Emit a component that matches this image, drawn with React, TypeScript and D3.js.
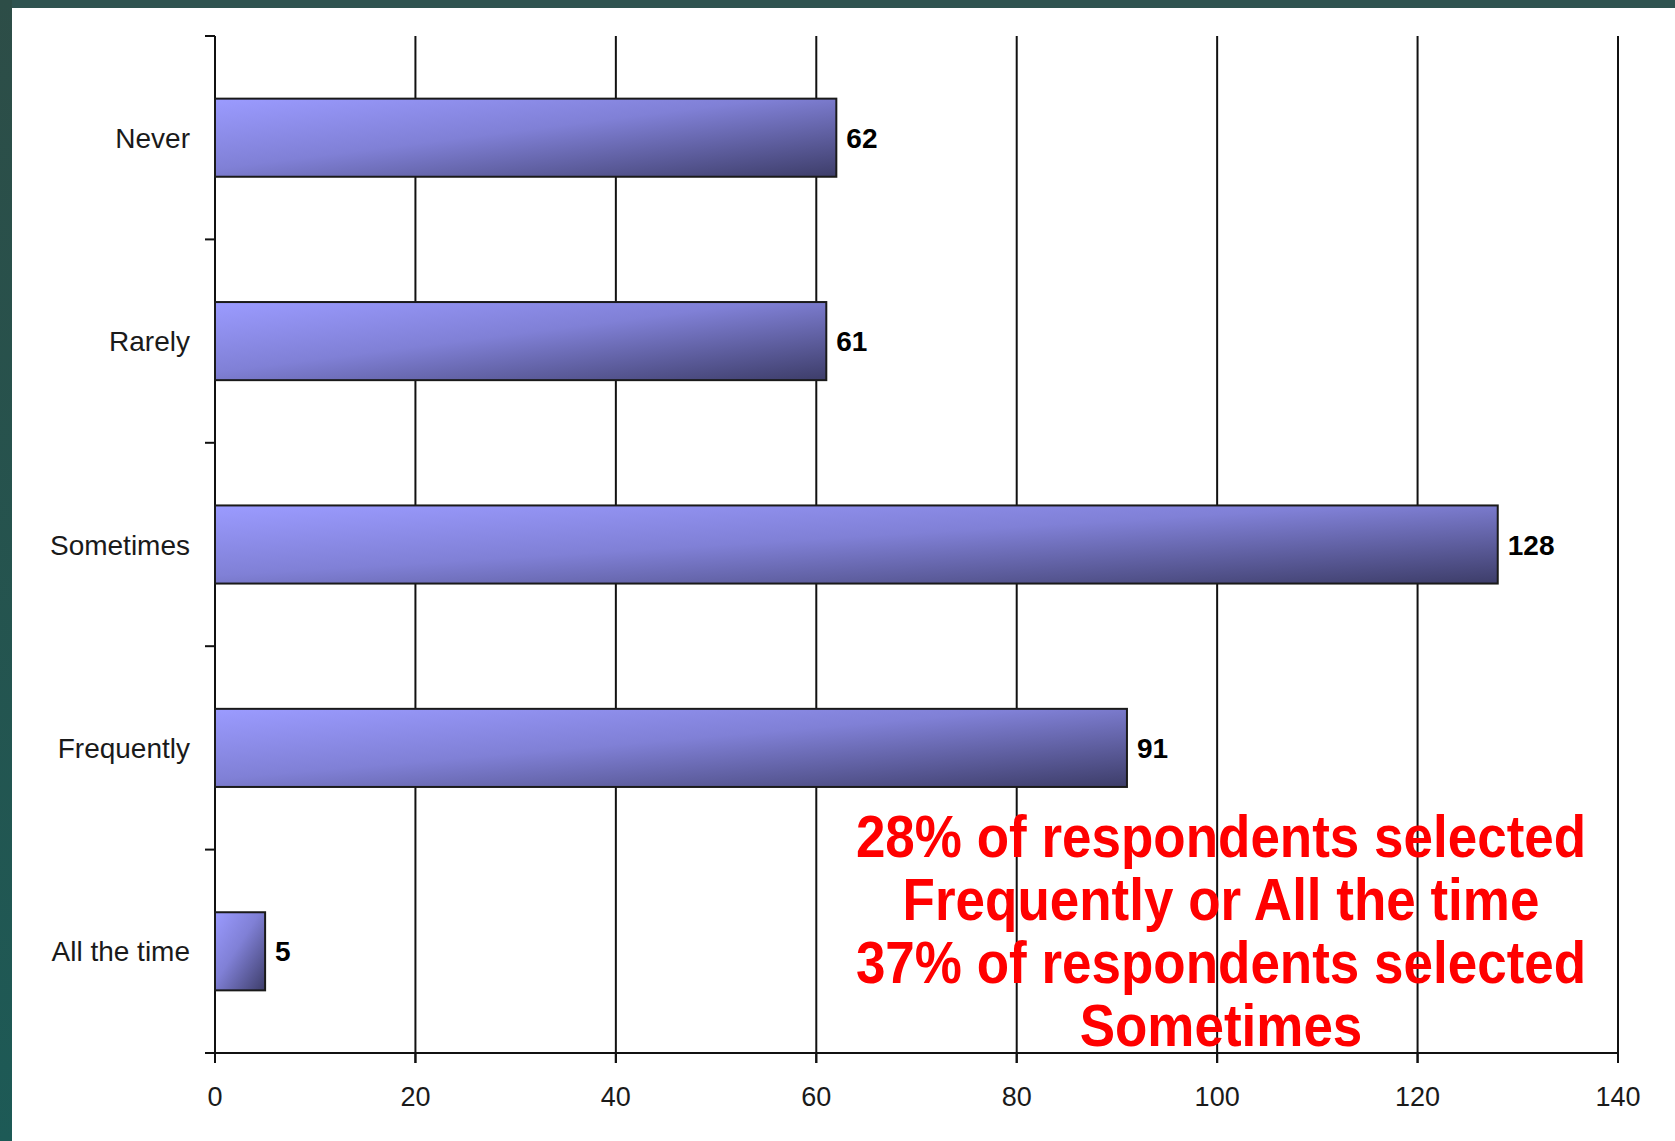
import * as d3 from 'd3';

const categories = ['Never', 'Rarely', 'Sometimes', 'Frequently', 'All the time'];
const counts = [62, 61, 128, 91, 5];
const xTickValues = [0, 20, 40, 60, 80, 100, 120, 140];
const noteLines = [
  '28% of respondents selected',
  'Frequently or All the time',
  '37% of respondents selected',
  'Sometimes',
];

const W = 1675;
const H = 1141;
const plot = { left: 215, right: 1618, top: 36, bottom: 1053 };
const font = '"Liberation Sans", Arial, sans-serif';

export default function App() {
  const x = d3.scaleLinear().domain([0, 140]).range([plot.left, plot.right]);
  const y = d3
    .scaleBand<string>()
    .domain(categories)
    .range([plot.top, plot.bottom])
    .paddingInner(0.616)
    .paddingOuter(0.308);

  const step = y.step();
  const bw = y.bandwidth();
  // category boundary ticks on the left axis
  const boundaries = d3.range(categories.length + 1).map((i) => plot.top + i * step);

  return (
    <div style={{ position: 'absolute', left: 0, top: 0 }}>
      <svg width={W} height={H} style={{ display: 'block' }} fontFamily={font}>
        <defs>
          <linearGradient id="frame-grad" x1="0" y1="0" x2="0" y2="1">
            <stop offset="0%" stopColor="#2d4d47" />
            <stop offset="100%" stopColor="#1d5a56" />
          </linearGradient>
          <linearGradient id="bar-grad" x1="0" y1="0" x2="1" y2="1">
            <stop offset="0%" stopColor="#9b9bff" />
            <stop offset="45%" stopColor="#8080d6" />
            <stop offset="100%" stopColor="#3d3d69" />
          </linearGradient>
        </defs>

        {/* slide background */}
        <rect x={0} y={0} width={W} height={H} fill="#ffffff" />
        <rect x={0} y={0} width={W} height={8} fill="#2f5350" />
        <rect x={0} y={0} width={12} height={H} fill="url(#frame-grad)" />

        {/* vertical gridlines */}
        {xTickValues.slice(1).map((t) => (
          <line
            key={`g${t}`}
            x1={x(t)}
            x2={x(t)}
            y1={plot.top}
            y2={plot.bottom + 10}
            stroke="#111"
            strokeWidth={2}
          />
        ))}

        {/* y axis */}
        <line x1={plot.left} x2={plot.left} y1={plot.top} y2={plot.bottom + 10} stroke="#111" strokeWidth={2} />
        {boundaries.map((b, i) => (
          <line key={`yt${i}`} x1={plot.left - 10} x2={plot.left} y1={b} y2={b} stroke="#111" strokeWidth={2} />
        ))}

        {/* x axis */}
        <line x1={plot.left - 10} x2={plot.right} y1={plot.bottom} y2={plot.bottom} stroke="#111" strokeWidth={2} />
        {xTickValues.map((t) => (
          <g key={`xt${t}`}>
            <line x1={x(t)} x2={x(t)} y1={plot.bottom} y2={plot.bottom + 10} stroke="#111" strokeWidth={2} />
            <text x={x(t)} y={1106} textAnchor="middle" fontSize={27} fill="#1a1a1a">
              {t}
            </text>
          </g>
        ))}

        {/* bars */}
        {categories.map((c, i) => {
          const y0 = y(c) ?? 0;
          return (
            <g key={c}>
              <rect
                x={x(0)}
                y={y0}
                width={x(counts[i]) - x(0)}
                height={bw}
                fill="url(#bar-grad)"
                stroke="#1a1a1a"
                strokeWidth={2}
              />
              <text
                x={x(counts[i]) + 10}
                y={y0 + bw / 2}
                dy="0.36em"
                fontSize={28}
                fontWeight="bold"
                fill="#000"
              >
                {counts[i]}
              </text>
              <text x={190} y={y0 + bw / 2} dy="0.36em" textAnchor="end" fontSize={28} fill="#1a1a1a">
                {c}
              </text>
            </g>
          );
        })}

        {/* annotation */}
        {noteLines.map((line, i) => (
          <text
            key={line}
            transform={`translate(1221, ${857 + i * 63}) scale(1, 1.12)`}
            textAnchor="middle"
            fontSize={53}
            fontWeight="bold"
            fill="#ff0000"
          >
            {line}
          </text>
        ))}
      </svg>
    </div>
  );
}
